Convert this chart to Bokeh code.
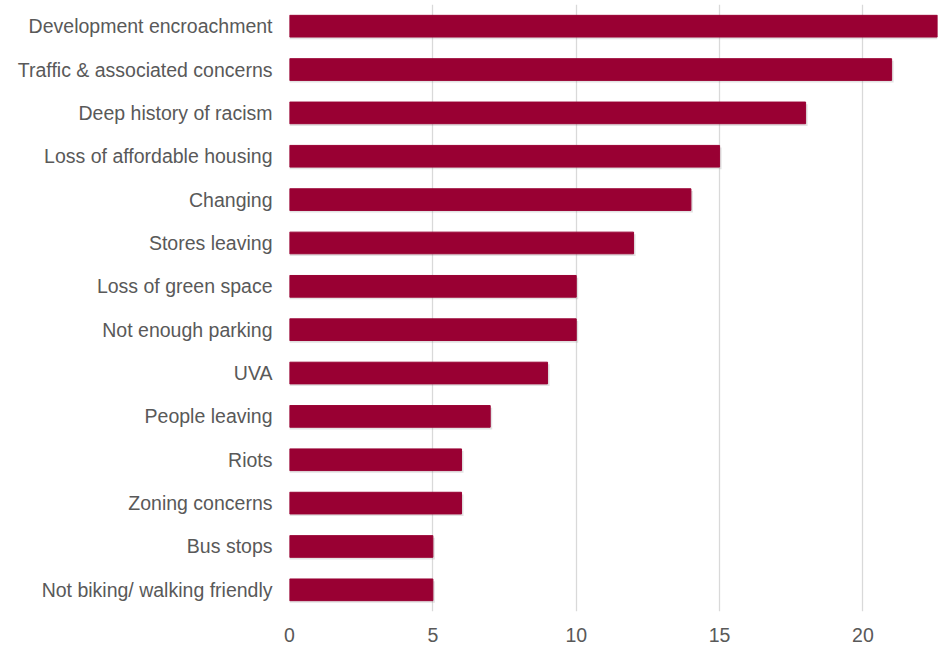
from bokeh.plotting import figure
from bokeh.models import Range1d, FactorRange, ColumnDataSource
from bokeh.transform import dodge
from bokeh.embed import file_html
from bokeh.resources import INLINE

categories = [
    "Development encroachment",
    "Traffic & associated concerns",
    "Deep history of racism",
    "Loss of affordable housing",
    "Changing",
    "Stores leaving",
    "Loss of green space",
    "Not enough parking",
    "UVA",
    "People leaving",
    "Riots",
    "Zoning concerns",
    "Bus stops",
    "Not biking/ walking friendly",
]
values = [23, 21, 18, 15, 14, 12, 10, 10, 9, 7, 6, 6, 5, 5]
x_ticks = [0, 5, 10, 15, 20]

src = ColumnDataSource(dict(cat=categories, val=values))

p = figure(
    width=938, height=645,
    y_range=FactorRange(factors=list(reversed(categories)), range_padding=0),
    x_range=Range1d(0, 22.6),
    output_backend="svg", toolbar_location=None,
    min_border_left=289, min_border_right=1, min_border_top=4, min_border_bottom=34,
)
p.xaxis.ticker = x_ticks
p.xgrid.ticker = x_ticks
p.xgrid.grid_line_color = "#d9d9d9"
p.xgrid.grid_line_width = 1.3
p.ygrid.grid_line_color = None
p.outline_line_color = None

# soft shadow
p.hbar(y=dodge("cat", -0.05, range=p.y_range), right=dodge("val", 0.07), height=0.5, left=0,
       source=src, fill_color="#808080", fill_alpha=0.22, line_color=None)
p.hbar(y="cat", right="val", height=0.5, left=0, source=src, color="#990033")

for ax in (p.xaxis, p.yaxis):
    ax.axis_line_color = None
    ax.major_tick_line_color = None
    ax.minor_tick_line_color = None
    ax.major_label_text_font = "Liberation Sans"
    ax.major_label_text_font_size = "19.5px"
    ax.major_label_text_color = "#595959"
p.yaxis.major_label_standoff = 11
p.xaxis.major_label_standoff = 10

open("out.html", "w").write(file_html(p, INLINE))
